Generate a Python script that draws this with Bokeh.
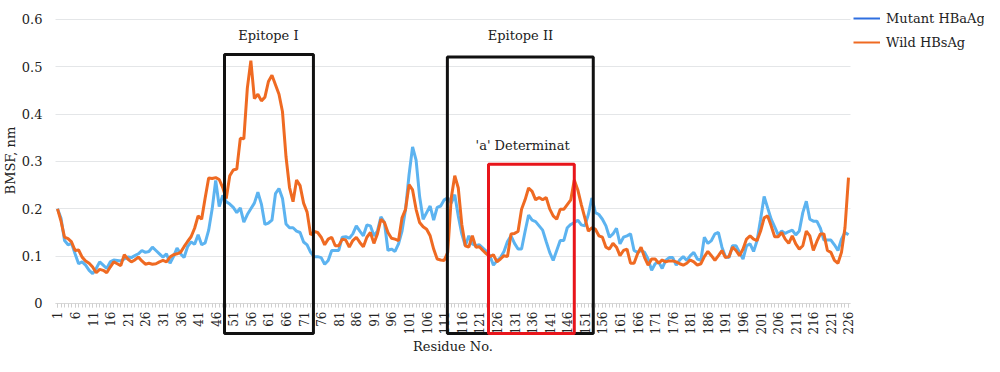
import math
from bokeh.plotting import figure
from bokeh.models import (FixedTicker, NumeralTickFormatter, BoxAnnotation, Label,
                          Legend, LegendItem, ColumnDataSource)
from bokeh.embed import file_html
from bokeh.resources import INLINE

residues = list(range(1, 227))

wild = [
    0.200, 0.174, 0.140, 0.137, 0.130, 0.112, 0.113, 0.098, 0.090, 0.085,
    0.077, 0.065, 0.072, 0.070, 0.065, 0.077, 0.088, 0.084, 0.080, 0.103,
    0.094, 0.088, 0.092, 0.098, 0.090, 0.083, 0.085, 0.083, 0.084, 0.088,
    0.091, 0.088, 0.098, 0.103, 0.105, 0.108, 0.120, 0.131, 0.141, 0.159,
    0.185, 0.178, 0.223, 0.265, 0.264, 0.266, 0.262, 0.245, 0.222, 0.270,
    0.282, 0.284, 0.349, 0.348, 0.455, 0.513, 0.433, 0.442, 0.428, 0.436,
    0.469, 0.482, 0.462, 0.442, 0.405, 0.310, 0.245, 0.215, 0.261, 0.249,
    0.212, 0.193, 0.145, 0.152, 0.150, 0.140, 0.124, 0.136, 0.140, 0.122,
    0.122, 0.136, 0.134, 0.119, 0.133, 0.140, 0.129, 0.120, 0.140, 0.150,
    0.127, 0.147, 0.178, 0.171, 0.150, 0.138, 0.136, 0.133, 0.181, 0.199,
    0.251, 0.240, 0.199, 0.171, 0.162, 0.157, 0.143, 0.115, 0.094, 0.092,
    0.091, 0.108, 0.223, 0.270, 0.244, 0.167, 0.122, 0.119, 0.143, 0.119,
    0.120, 0.112, 0.105, 0.099, 0.103, 0.088, 0.094, 0.101, 0.099, 0.147,
    0.148, 0.152, 0.199, 0.219, 0.244, 0.237, 0.219, 0.224, 0.219, 0.224,
    0.200, 0.185, 0.178, 0.199, 0.199, 0.209, 0.219, 0.261, 0.240, 0.209,
    0.181, 0.153, 0.160, 0.157, 0.143, 0.140, 0.119, 0.115, 0.127, 0.119,
    0.101, 0.112, 0.115, 0.085, 0.085, 0.105, 0.119, 0.097, 0.081, 0.094,
    0.094, 0.085, 0.092, 0.088, 0.090, 0.090, 0.088, 0.084, 0.081, 0.085,
    0.092, 0.088, 0.081, 0.084, 0.099, 0.110, 0.101, 0.091, 0.101, 0.112,
    0.097, 0.099, 0.119, 0.112, 0.101, 0.115, 0.136, 0.143, 0.136, 0.133,
    0.153, 0.181, 0.185, 0.164, 0.141, 0.141, 0.150, 0.136, 0.127, 0.143,
    0.126, 0.115, 0.122, 0.153, 0.143, 0.112, 0.131, 0.147, 0.147, 0.112,
    0.108, 0.091, 0.085, 0.108, 0.160, 0.266,
]

mutant = [
    0.200, 0.180, 0.133, 0.124, 0.127, 0.105, 0.084, 0.088, 0.081, 0.070,
    0.063, 0.074, 0.088, 0.081, 0.074, 0.088, 0.092, 0.091, 0.090, 0.094,
    0.098, 0.097, 0.101, 0.105, 0.112, 0.108, 0.110, 0.119, 0.112, 0.105,
    0.098, 0.105, 0.085, 0.099, 0.117, 0.105, 0.097, 0.120, 0.130, 0.125,
    0.145, 0.124, 0.128, 0.155, 0.200, 0.260, 0.205, 0.228, 0.215, 0.210,
    0.203, 0.192, 0.202, 0.172, 0.188, 0.200, 0.212, 0.235, 0.210, 0.167,
    0.170, 0.176, 0.232, 0.243, 0.222, 0.168, 0.160, 0.160, 0.153, 0.150,
    0.130, 0.124, 0.108, 0.099, 0.099, 0.097, 0.083, 0.091, 0.112, 0.112,
    0.112, 0.140, 0.141, 0.138, 0.147, 0.164, 0.153, 0.143, 0.166, 0.164,
    0.143, 0.153, 0.183, 0.171, 0.112, 0.115, 0.110, 0.126, 0.153, 0.199,
    0.272, 0.331, 0.303, 0.226, 0.178, 0.192, 0.206, 0.176, 0.203, 0.206,
    0.219, 0.223, 0.212, 0.230, 0.185, 0.147, 0.122, 0.143, 0.126, 0.122,
    0.124, 0.117, 0.110, 0.101, 0.081, 0.090, 0.097, 0.110, 0.131, 0.143,
    0.127, 0.115, 0.115, 0.152, 0.187, 0.176, 0.173, 0.164, 0.155, 0.131,
    0.108, 0.091, 0.112, 0.133, 0.133, 0.160, 0.167, 0.171, 0.176, 0.166,
    0.164, 0.188, 0.223, 0.192, 0.188, 0.178, 0.164, 0.140, 0.147, 0.159,
    0.126, 0.140, 0.143, 0.147, 0.112, 0.108, 0.112, 0.108, 0.094, 0.070,
    0.084, 0.088, 0.074, 0.091, 0.097, 0.097, 0.081, 0.092, 0.099, 0.091,
    0.101, 0.108, 0.094, 0.091, 0.140, 0.127, 0.133, 0.147, 0.150, 0.119,
    0.099, 0.097, 0.122, 0.122, 0.108, 0.094, 0.122, 0.126, 0.110, 0.133,
    0.178, 0.226, 0.202, 0.178, 0.162, 0.145, 0.153, 0.148, 0.152, 0.155,
    0.145, 0.153, 0.192, 0.216, 0.178, 0.174, 0.174, 0.159, 0.134, 0.134,
    0.134, 0.124, 0.112, 0.136, 0.150, 0.145,
]

x_tick_labels = list(range(1, 227, 5))
y_ticks = [0, 0.1, 0.2, 0.3, 0.4, 0.5, 0.6]

# annotated regions: (label, left residue, right residue, top value, colour)
regions = [
    ("Epitope I", 48.5, 73.8, 0.526, "#111111"),
    ("Epitope II", 111.9, 153.4, 0.521, "#111111"),
    ("'a' Determinat", 123.6, 148.0, 0.294, "#e8151b"),
]
label_pos = [(61.0, 0.567), (132.7, 0.567), (133.3, 0.333)]
box_bottom = -0.0634

FONT = "DejaVu Serif"
ORANGE = "#ef6a22"
LIGHTBLUE = "#5cb3f0"
LEGBLUE = "#2f6fe0"
TXT = "#222222"

X0, X1 = 0.43, 226.57          # data extent of the plotting area
XR = (-15.213, 264.685)        # whole canvas (axes drawn inside it)
YR = (-0.11198, 0.64014)

p = figure(width=984, height=356, output_backend="svg", toolbar_location=None,
           x_range=XR, y_range=YR,
           min_border_left=0, min_border_right=0, min_border_top=0,
           min_border_bottom=0)
p.outline_line_color = None
p.background_fill_color = "white"

src = ColumnDataSource(dict(x=residues, wild=wild, mutant=mutant))
p.line("x", "mutant", source=src, line_color=LIGHTBLUE, line_width=3)
p.line("x", "wild", source=src, line_color=ORANGE, line_width=3)

# grid
p.xgrid.visible = False
p.ygrid.grid_line_color = "#e4e6e8"
p.ygrid.grid_line_width = 1
p.ygrid.ticker = FixedTicker(ticks=y_ticks)
p.ygrid.cross_bounds = (X0, X1)

# y axis pinned at the left edge of the plotting area
yax = p.yaxis[0]
yax.fixed_location = X0
yax.ticker = FixedTicker(ticks=y_ticks)
yax.bounds = (0, 0.6)
yax.formatter = NumeralTickFormatter(format="0.[0]")
yax.axis_line_color = None
yax.major_tick_line_color = None
yax.minor_tick_line_color = None
yax.major_label_text_font = FONT
yax.major_label_text_font_size = "13px"
yax.major_label_text_color = TXT
yax.major_label_standoff = 7

# x axis pinned at y = 0 so the region boxes can run over its labels
xax = p.xaxis[0]
xax.fixed_location = 0
xax.bounds = (X0, X1)
xax.ticker = FixedTicker(ticks=x_tick_labels, minor_ticks=residues)
xax.axis_line_color = "#d8d8d8"
xax.major_tick_line_color = "#d0d0d0"
xax.minor_tick_line_color = "#d0d0d0"
xax.major_tick_out = 4
xax.major_tick_in = 0
xax.minor_tick_out = 4
xax.minor_tick_in = 0
xax.major_label_orientation = math.pi / 2
xax.major_label_text_font = FONT
xax.major_label_text_font_size = "12px"
xax.major_label_text_color = TXT
xax.major_label_standoff = 4

# axis titles
p.add_layout(Label(x=(X0 + X1) / 2, y=-0.0909, text="Residue No.",
                   text_align="center", text_baseline="middle",
                   text_font=FONT, text_font_size="13px", text_color=TXT))
p.add_layout(Label(x=-12.37, y=0.302, text="BMSF, nm", angle=math.pi / 2,
                   text_align="center", text_baseline="middle",
                   text_font=FONT, text_font_size="13px", text_color=TXT))

for (name, l, r, top, col), (lx, ly) in zip(regions, label_pos):
    p.add_layout(BoxAnnotation(left=l, right=r, top=top, bottom=box_bottom,
                               fill_alpha=0, line_color=col, line_alpha=1.0,
                               line_width=3, level="overlay"))
    p.add_layout(Label(x=lx, y=ly, text=name, text_align="center",
                       text_baseline="middle", text_font=FONT,
                       text_font_size="13px", text_color=TXT))

leg_m = p.line(x=residues[:1], y=mutant[:1], line_color=LEGBLUE, line_width=2)
leg_w = p.line(x=residues[:1], y=wild[:1], line_color=ORANGE, line_width=2)
legend = Legend(items=[LegendItem(label="Mutant HBaAg", renderers=[leg_m]),
                       LegendItem(label="Wild HBsAg", renderers=[leg_w])],
                location=(853, 304), padding=0, margin=0, spacing=4,
                glyph_width=27, glyph_height=20, label_height=20,
                label_standoff=6, border_line_color=None,
                background_fill_alpha=0, label_text_font=FONT,
                label_text_font_size="13px", label_text_color=TXT)
p.add_layout(legend, "center")

open("out.html", "w").write(file_html(p, INLINE))
